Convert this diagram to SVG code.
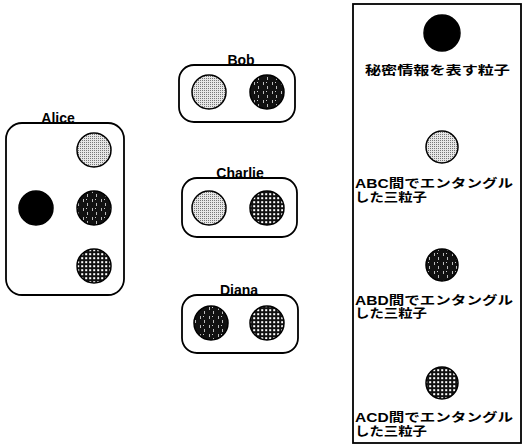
<svg xmlns="http://www.w3.org/2000/svg" width="526" height="448" viewBox="0 0 526 448">
<style>
.box{fill:#fff;stroke:#000;stroke-width:1.8}
.p{stroke:#000;stroke-width:1.5}
.lbl{font-family:"Liberation Sans","Noto Sans CJK JP",sans-serif;font-weight:bold;font-size:14px;text-anchor:middle;fill:#000}
.lg{font-family:"Liberation Sans","Noto Sans CJK JP",sans-serif;font-weight:bold;font-size:12px;fill:#000}
.sec{fill:#000}
.abc{fill:url(#dots)}
.abd{fill:url(#speck)}
.acd{fill:url(#grid)}
</style>
<defs>
<pattern id="dots" width="2" height="2" patternUnits="userSpaceOnUse">
<rect width="2" height="2" fill="#e6e6e6"/>
<rect width="1" height="1" fill="#777"/>
</pattern>
<pattern id="speck" width="9" height="9" patternUnits="userSpaceOnUse">
<rect width="9" height="9" fill="#111"/>
<rect x="2" y="1" width="1" height="3" fill="#bbb"/>
<rect x="6" y="5" width="1" height="3" fill="#bbb"/>
<rect x="5" y="1" width="1" height="1" fill="#ccc"/>
</pattern>
<pattern id="grid" width="4" height="4" patternUnits="userSpaceOnUse">
<rect width="4" height="4" fill="#111"/>
<rect x="1.2" y="1.2" width="2" height="2" fill="#fff"/>
</pattern>
</defs>

<g id="alice">
<rect class="box" x="6" y="123" width="118" height="172" rx="16"/>
<text class="lbl" x="58" y="123">Alice</text>
<circle class="p sec" cx="36" cy="208" r="17"/>
<circle class="p abc" cx="94" cy="150" r="17"/>
<circle class="p abd" cx="94" cy="208" r="17"/>
<circle class="p acd" cx="94" cy="266" r="17"/>
</g>

<g id="bob">
<rect class="box" x="179" y="65" width="116" height="57" rx="15"/>
<text class="lbl" x="241" y="65">Bob</text>
<circle class="p abc" cx="209" cy="92" r="17"/>
<circle class="p abd" cx="267" cy="92" r="17"/>
</g>

<g id="charlie">
<rect class="box" x="182" y="178" width="115" height="59" rx="15"/>
<text class="lbl" x="240" y="178">Charlie</text>
<circle class="p abc" cx="209" cy="208" r="17"/>
<circle class="p acd" cx="267" cy="208" r="17"/>
</g>

<g id="diana">
<rect class="box" x="182" y="295" width="116" height="58" rx="15"/>
<text class="lbl" x="239" y="295">Diana</text>
<circle class="p abd" cx="211" cy="323" r="17"/>
<circle class="p acd" cx="267" cy="323" r="17"/>
</g>

<g id="legend">
<rect class="box" x="353" y="4" width="168" height="439" rx="0"/>
<circle class="p sec" cx="442" cy="33" r="18"/>
<text class="lg" x="365" y="75" textLength="145" lengthAdjust="spacingAndGlyphs">秘密情報を表す粒子</text>
<circle class="p abc" cx="442" cy="147" r="16"/>
<text class="lg" x="355" y="188" textLength="158" lengthAdjust="spacingAndGlyphs">ABC間でエンタングル</text>
<text class="lg" x="355" y="202" textLength="72" lengthAdjust="spacingAndGlyphs">した三粒子</text>
<circle class="p abd" cx="442" cy="265" r="16"/>
<text class="lg" x="355" y="305" textLength="158" lengthAdjust="spacingAndGlyphs">ABD間でエンタングル</text>
<text class="lg" x="355" y="318" textLength="72" lengthAdjust="spacingAndGlyphs">した三粒子</text>
<circle class="p acd" cx="442" cy="383" r="16"/>
<text class="lg" x="355" y="422" textLength="158" lengthAdjust="spacingAndGlyphs">ACD間でエンタングル</text>
<text class="lg" x="355" y="436" textLength="72" lengthAdjust="spacingAndGlyphs">した三粒子</text>
</g>

<g id="connectors"></g>
</svg>
